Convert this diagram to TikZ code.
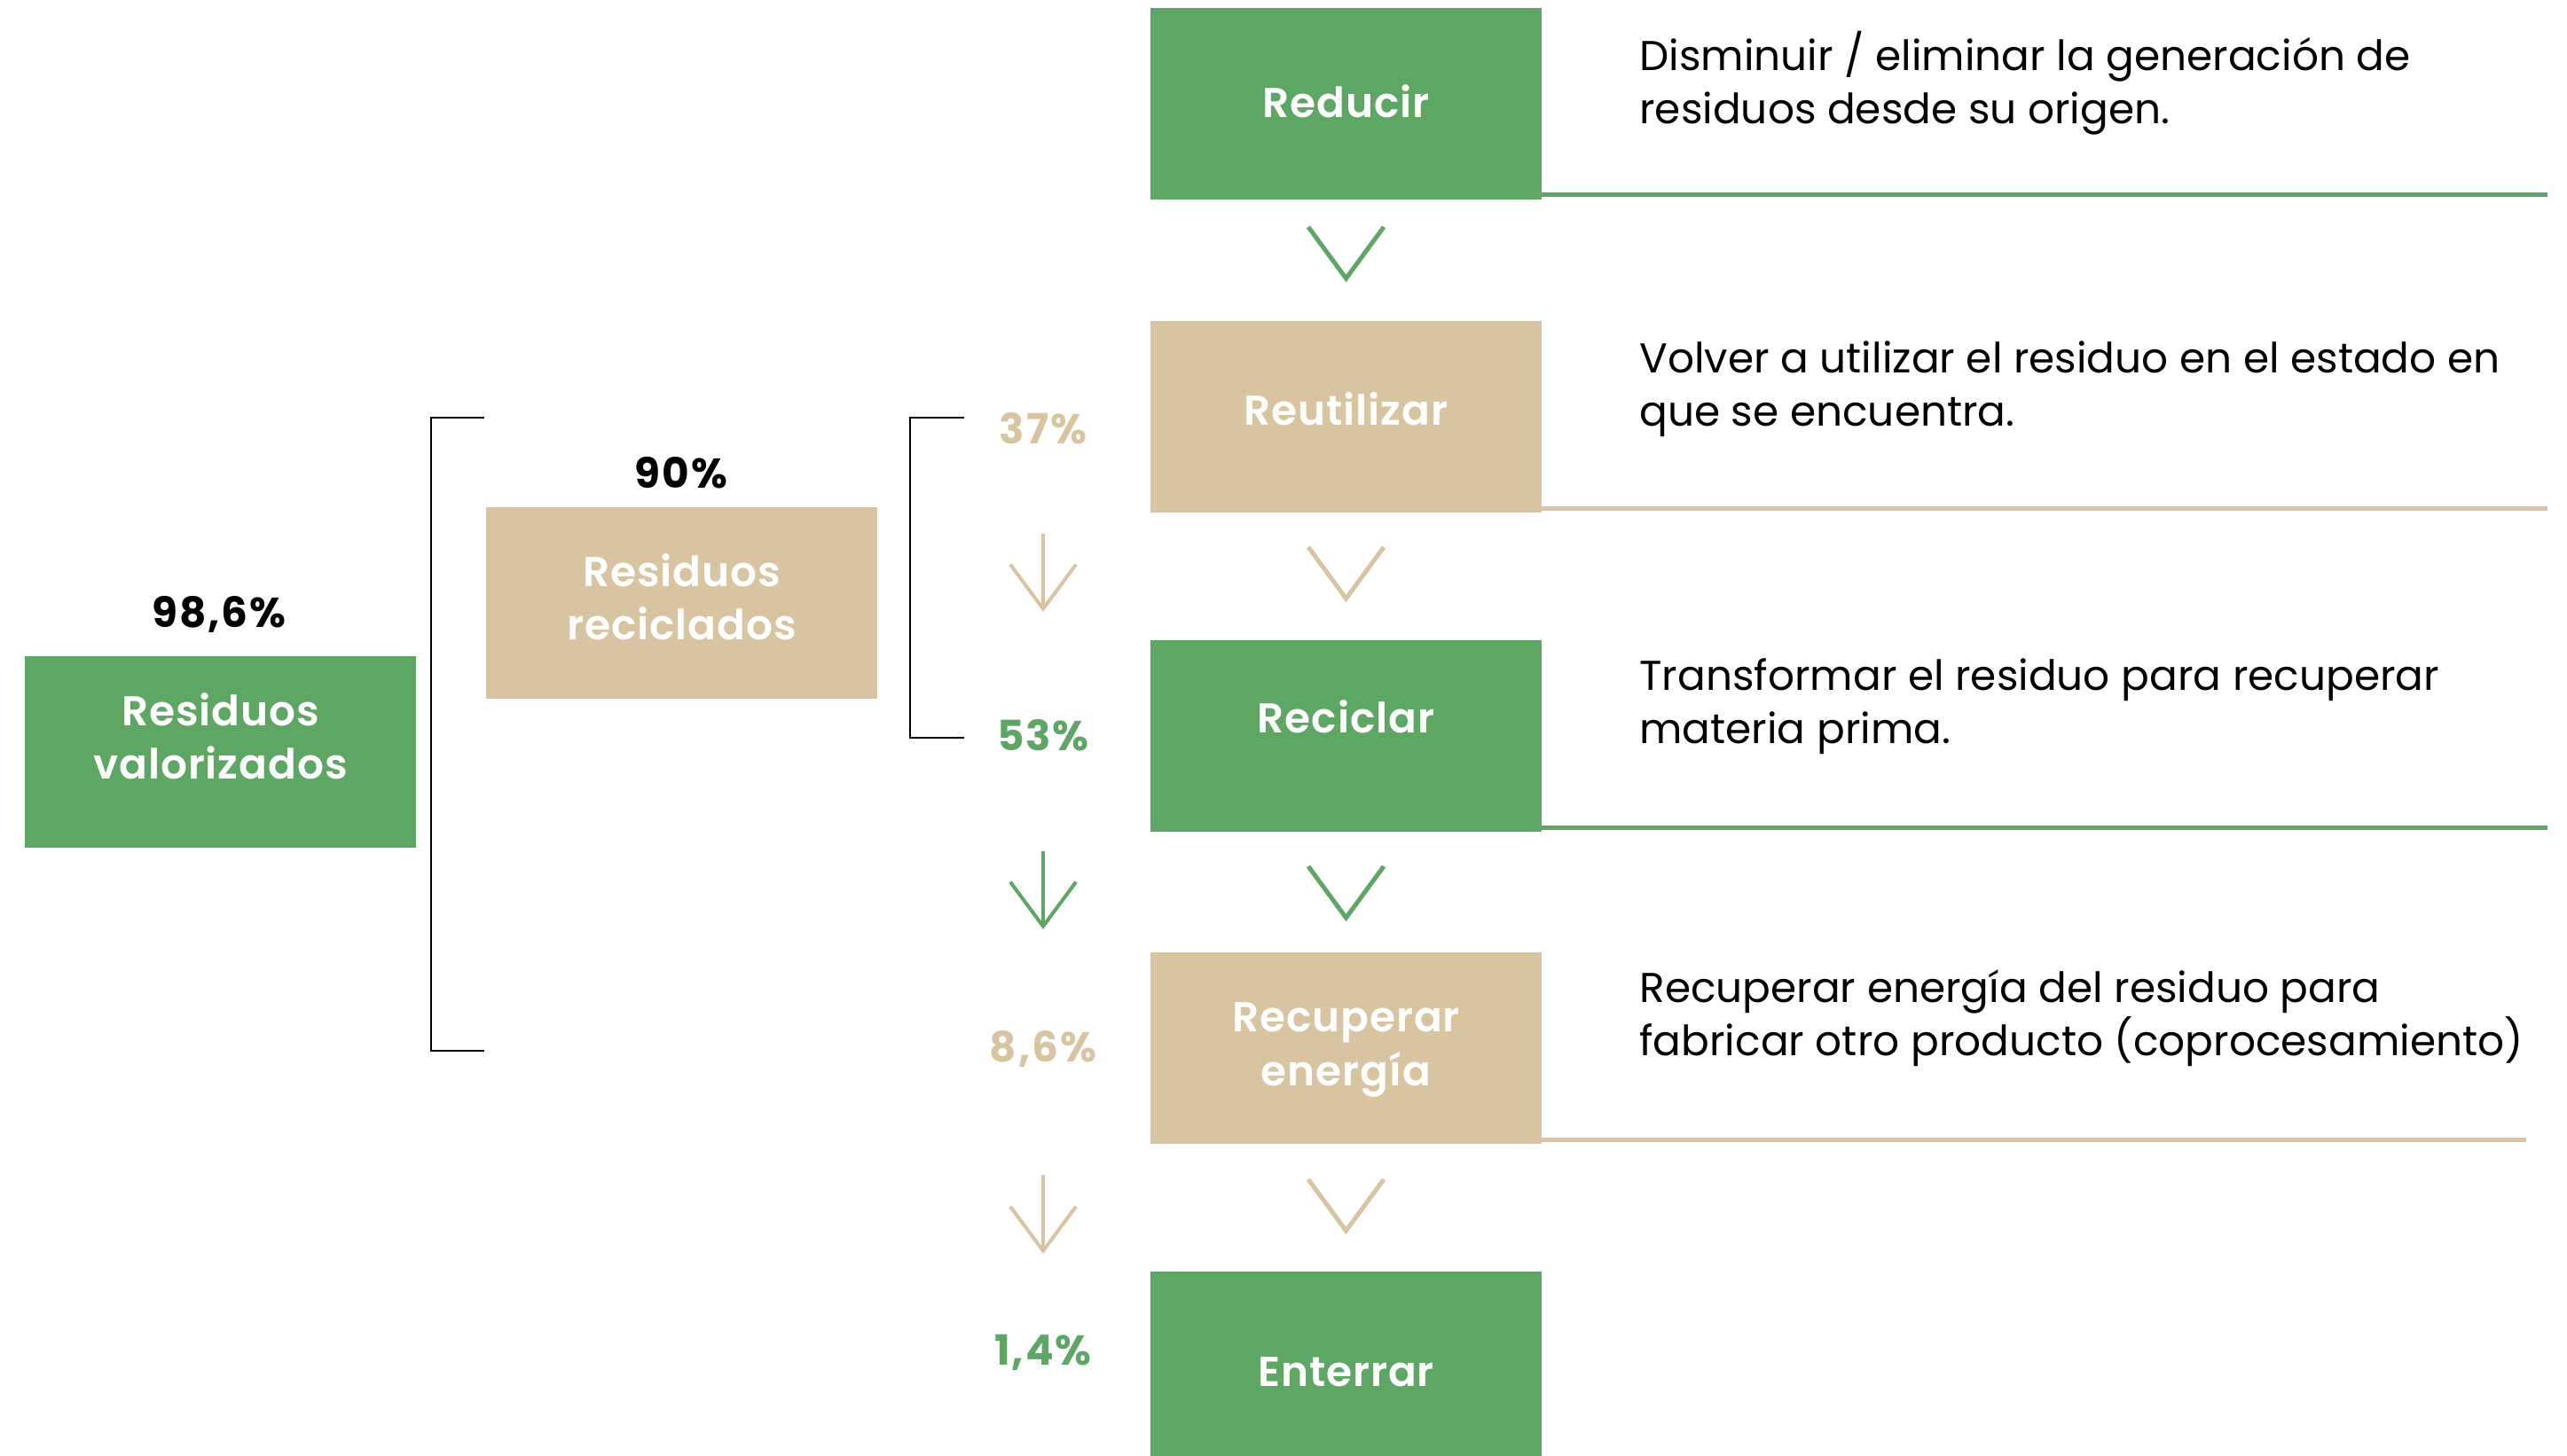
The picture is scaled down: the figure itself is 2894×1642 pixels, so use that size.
\documentclass[tikz,border=0pt]{standalone}
\usepackage{fontspec}
\setmainfont{Poppins}[BoldFont={Poppins SemiBold}]
\newfontfamily\pctfont{Poppins Bold}[LetterSpace=4]
\usetikzlibrary{arrows.meta,calc}
\definecolor{vgreen}{RGB}{93,166,100}
\definecolor{vtan}{RGB}{217,196,161}
\begin{document}
\begin{tikzpicture}[x=0.5pt,y=-0.5pt,
  box/.style={minimum width=220.5pt,minimum height=108pt,inner sep=0pt},
  gbox/.style={box,fill=vgreen},
  tbox/.style={box,fill=vtan},
  lbl/.style={text=white,inner sep=0pt,align=center,
    font=\fontsize{23.5}{30}\selectfont\bfseries\addfontfeatures{LetterSpace=2}},
  pct/.style={font=\fontsize{23.5}{30}\selectfont\pctfont,inner sep=0pt},
  desc/.style={font=\fontsize{23.5}{30}\selectfont,align=left,anchor=north west,inner sep=0pt},
  rule/.style={line width=2.5pt},
  chev/.style={line width=2.5pt},
  darrow/.style={line width=2pt,-{Straight Barb[length=25pt,width=37pt]}},
  brack/.style={line width=1.3pt,black}]
\useasboundingbox (0,0) rectangle (2894,1642);
% main column
\node[gbox] (red) at (1517.5,117) {};
\node[tbox] (reu) at (1517.5,470) {};
\node[gbox] (rec) at (1517.5,830) {};
\node[tbox] (ene) at (1517.5,1182) {};
\node[gbox] (ent) at (1517.5,1542) {};
\node[lbl] (tred) at ($(red.center)+(0,-3)$) {Reducir};
\node[lbl] (treu) at ($(reu.center)+(0,-9)$) {Reutilizar};
\node[lbl] (trec) at ($(rec.center)+(0,-22)$) {Reciclar};
\node[lbl] (tene) at ($(ene.center)+(0,2)$) {Recuperar\\energía};
\node[lbl] (tent) at ($(ent.center)+(0,5)$) {Enterrar};
% rules
\coordinate (l1) at (2872,220);
\coordinate (l2) at (2872,573);
\coordinate (l3) at (2872,933);
\coordinate (l4) at (2848,1285);
\draw[rule,vgreen] (red.east |- l1) -- (l1);
\draw[rule,vtan] (reu.east |- l2) -- (l2);
\draw[rule,vgreen] (rec.east |- l3) -- (l3);
\draw[rule,vtan] (ene.east |- l4) -- (l4);
% chevrons
\draw[chev,vgreen] (1475,256) -- (1517.5,314) -- (1560,256);
\draw[chev,vtan] (1475,617) -- (1517.5,675) -- (1560,617);
\draw[chev,vgreen] (1475,977) -- (1517.5,1035) -- (1560,977);
\draw[chev,vtan] (1475,1330) -- (1517.5,1388) -- (1560,1330);
% descriptions
\node[desc] (d1) at (1848,35) {Disminuir / eliminar la generación de\\residuos desde su origen.};
\node[desc] (d2) at (1848,384) {Volver a utilizar el residuo en el estado en\\que se encuentra.};
\node[desc] (d3) at (1848,742) {Transformar el residuo para recuperar\\materia prima.};
\node[desc] (d4) at (1848,1093) {Recuperar energía del residuo para\\fabricar otro producto (coprocesamiento)};
% left boxes
\node[gbox] (val) at (248.5,848) {};
\node[tbox] (recl) at (768.5,680) {};
\node[lbl] (tval) at ($(val.center)+(0,-18)$) {Residuos\\valorizados};
\node[lbl] (trecl) at ($(recl.center)+(0,-7)$) {Residuos\\reciclados};
\node[pct] (p986) at (247,693) {98,6\%};
\node[pct] (p90) at (768,533) {90\%};
% brackets
\draw[brack] (546,471) -| (486,1185) -- (546,1185);
\draw[brack] (1087,471) -| (1026,832) -- (1087,832);
% percentages
\node[pct,text=vtan] (p37) at (1176,483) {37\%};
\node[pct,text=vgreen] (p53) at (1176,829) {53\%};
\node[pct,text=vtan] (p86) at (1176,1183) {8,6\%};
\node[pct,text=vgreen] (p14) at (1176,1525) {1,4\%};
\coordinate (a1s) at (1176,602); \coordinate (a1e) at (1176,690);
\coordinate (a2s) at (1176,960); \coordinate (a2e) at (1176,1048);
\coordinate (a3s) at (1176,1325); \coordinate (a3e) at (1176,1414);
\draw[darrow,vtan] (a1s) -- (a1e);
\draw[darrow,vgreen] (a2s) -- (a2e);
\draw[darrow,vtan] (a3s) -- (a3e);
\end{tikzpicture}
\end{document}
